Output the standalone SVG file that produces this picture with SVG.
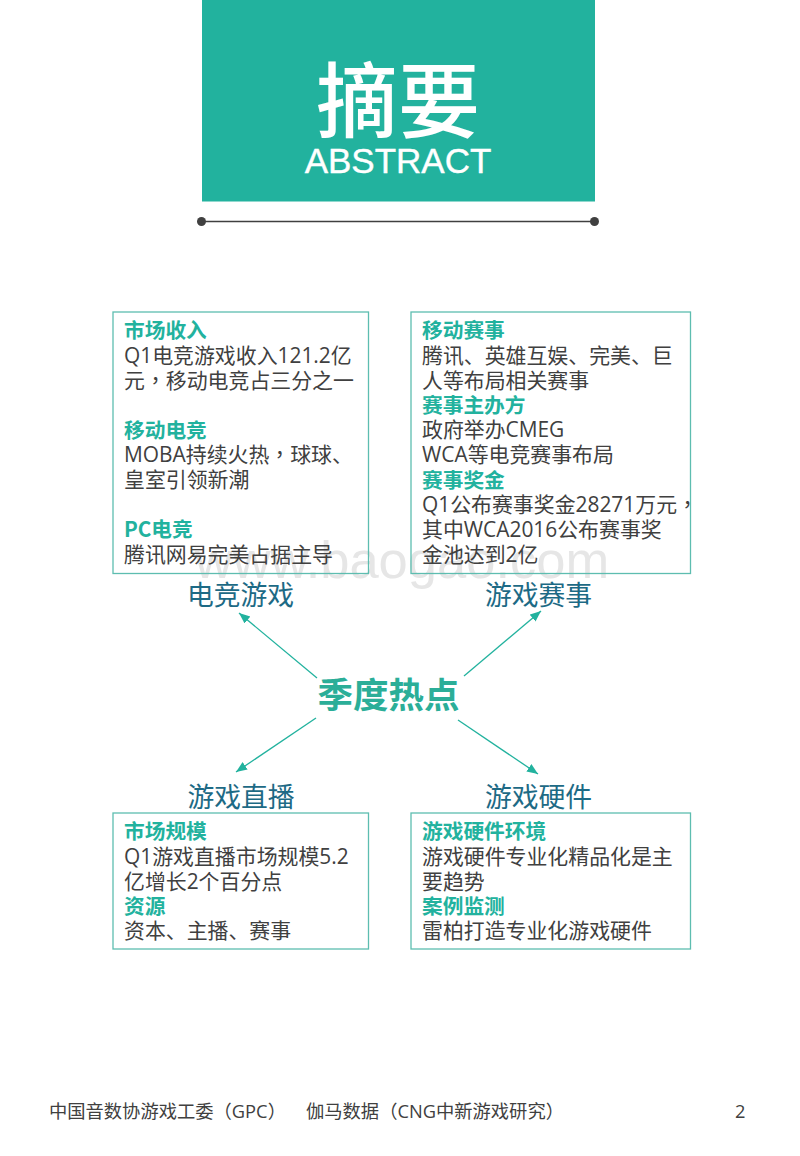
<svg xmlns="http://www.w3.org/2000/svg" width="800" height="1156" viewBox="0 0 800 1156">
<style>
text{font-family:"Open Sans","Noto Sans CJK SC",sans-serif}
.box{fill:none;stroke:#5dbdb0;stroke-width:1.3}
.h{font-size:20.700px;font-weight:700;fill:#22b29e;font-family:"Noto Sans CJK SC",sans-serif}
.b{font-size:20.900px;fill:#404040}
.c{font-size:26.800px;fill:#1d6a85;text-anchor:middle;font-family:"Noto Sans CJK SC",sans-serif}
.a{stroke:#22b29e;stroke-width:1.3;fill:none;marker-end:url(#ah)}
.f{font-size:18.300px;fill:#404040}
.tc{font-family:"Noto Sans CJK TC",sans-serif}
</style>
<defs>
<marker id="ah" markerUnits="userSpaceOnUse" markerWidth="12" markerHeight="10" refX="11" refY="4.5" orient="auto"><path d="M0 0L11 4.500L0 9Z" fill="#22b29e"/></marker>
</defs>
<rect width="800" height="1156" fill="#fff"/>
<g id="banner">
<rect x="202" y="0" width="393" height="201.500" fill="#22b29e"/>
<text x="398" y="131" font-size="82" font-weight="500" fill="#fff" text-anchor="middle" style="font-family:'Noto Sans CJK SC',sans-serif">摘要</text>
<text x="398" y="172.500" font-size="35" fill="#fff" stroke="#fff" stroke-width="0.4" text-anchor="middle" style="font-family:'Liberation Sans',sans-serif">ABSTRACT</text>
</g>
<g id="divider">
<line x1="201" y1="221.500" x2="594" y2="221.500" stroke="#404040" stroke-width="1.500"/>
<circle cx="201.500" cy="221.500" r="4.500" fill="#404040"/>
<circle cx="594.500" cy="221.500" r="4.500" fill="#404040"/>
</g>
<text id="watermark" x="402" y="578" font-size="52.500" fill="#e6e6e6" text-anchor="middle" style="font-family:'Liberation Sans',sans-serif">www.baogao.com</text>
<g id="node-esports-games">
<rect class="box" x="113" y="312" width="255.500" height="261.500"/>
<text class="h" x="124" y="337.500">市场收入</text>
<text class="b" x="124" y="362.500">Q1电竞游戏收入121.2亿</text>
<text class="b" x="124" y="387.500">元<tspan class="tc">，</tspan>移动电竞占三分之一</text>
<text class="h" x="124" y="437.500">移动电竞</text>
<text class="b" x="124" y="461.500">MOBA持续火热<tspan class="tc">，</tspan>球球、</text>
<text class="b" x="124" y="486.500">皇室引领新潮</text>
<text class="h" x="124" y="536.500">PC电竞</text>
<text class="b" x="124" y="561.500">腾讯网易完美占据主导</text>
<text class="c" x="240.500" y="604.500">电竞游戏</text>
</g>
<g id="node-events">
<rect class="box" x="411" y="312" width="279.500" height="261.500"/>
<text class="h" x="422" y="337.500">移动赛事</text>
<text class="b" x="422" y="362.500">腾讯、英雄互娱、完美、巨</text>
<text class="b" x="422" y="387.500">人等布局相关赛事</text>
<text class="h" x="422" y="412.500">赛事主办方</text>
<text class="b" x="422" y="436.500">政府举办CMEG</text>
<text class="b" x="422" y="461.500">WCA等电竞赛事布局</text>
<text class="h" x="422" y="487.500">赛事奖金</text>
<text class="b" x="422" y="511.500">Q1公布赛事奖金28271万元<tspan class="tc">，</tspan></text>
<text class="b" x="422" y="536.500">其中WCA2016公布赛事奖</text>
<text class="b" x="422" y="561.500">金池达到2亿</text>
<text class="c" x="538.500" y="604.500">游戏赛事</text>
</g>
<g id="node-center">
<text x="388.500" y="708" font-size="35.500" font-weight="700" fill="#2bae98" text-anchor="middle" style="font-family:'Noto Sans CJK SC',sans-serif">季度热点</text>
</g>
<g id="connectors">
<line class="a" x1="317" y1="678" x2="239" y2="613"/>
<line class="a" x1="464" y1="676" x2="541" y2="611"/>
<line class="a" x1="316" y1="718" x2="236" y2="772"/>
<line class="a" x1="458" y1="720" x2="538" y2="774"/>
</g>
<g id="node-streaming">
<text class="c" x="241" y="806.500">游戏直播</text>
<rect class="box" x="113" y="813" width="255.500" height="136"/>
<text class="h" x="124" y="839">市场规模</text>
<text class="b" x="124" y="863.500">Q1游戏直播市场规模5.2</text>
<text class="b" x="124" y="888.500">亿增长2个百分点</text>
<text class="h" x="124" y="913.500">资源</text>
<text class="b" x="124" y="937.500">资本、主播、赛事</text>
</g>
<g id="node-hardware">
<text class="c" x="538.500" y="806.500">游戏硬件</text>
<rect class="box" x="411" y="813" width="279.500" height="136"/>
<text class="h" x="422" y="839">游戏硬件环境</text>
<text class="b" x="422" y="863.500">游戏硬件专业化精品化是主</text>
<text class="b" x="422" y="888.500">要趋势</text>
<text class="h" x="422" y="913.500">案例监测</text>
<text class="b" x="422" y="937.500">雷柏打造专业化游戏硬件</text>
</g>
<g id="footer">
<text class="f" x="49" y="1118">中国音数协游戏工委<tspan class="tc">（</tspan>GPC<tspan class="tc">）</tspan></text>
<text class="f" x="306" y="1118">伽马数据<tspan class="tc">（</tspan>CNG中新游戏研究<tspan class="tc">）</tspan></text>
<text class="f" x="735" y="1118">2</text>
</g>
</svg>
